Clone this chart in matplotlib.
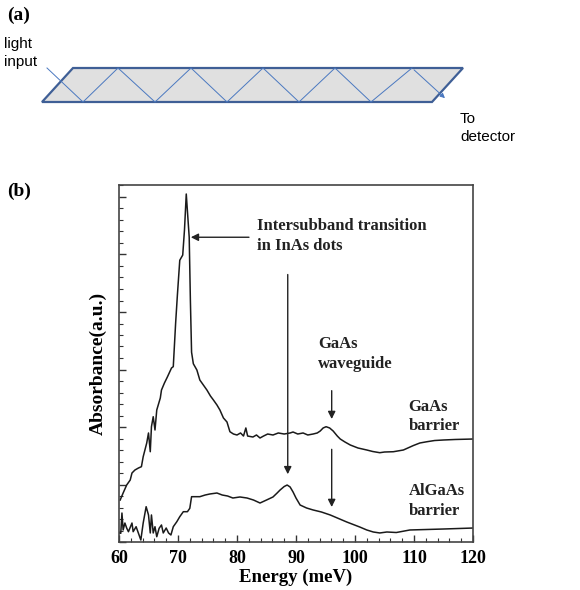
import matplotlib.pyplot as plt
import numpy as np
from matplotlib.patches import Polygon, FancyArrowPatch

# ---- panel (b) data (absorbance in arbitrary units) ----
gaas_energy = [60.2, 60.7, 61.3, 61.9, 62.2, 62.7, 63.3, 63.8, 64.1, 64.7, 65.0, 65.3, 65.5,
               65.8, 66.1, 66.4, 67.0, 67.2, 67.7, 68.2, 68.9, 69.2, 69.6, 69.9, 70.3, 70.8,
               71.1, 71.4, 71.6, 71.9, 72.1, 72.3, 72.6, 73.2, 73.7, 74.3, 74.9, 75.5, 76.0,
               76.6, 77.1, 77.7, 78.3, 78.8, 79.4, 80.0, 80.6, 81.1, 81.5, 81.8, 82.7, 83.3,
               83.9, 84.5, 85.2, 86.1, 87.0, 88.0, 89.0, 89.5, 90.3, 91.2, 92.0, 92.9, 93.6,
               94.1, 94.6, 95.1, 95.7, 96.3, 97.0, 97.5, 98.3, 99.2, 100.5, 102.0, 103.0,
               104.2, 105.0, 106.5, 108.2, 109.9, 111.0, 112.2, 113.5, 115.0, 117.0, 120.0]
gaas_abs = [0.730, 0.852, 0.991, 1.078, 1.200, 1.252, 1.287, 1.310, 1.483, 1.722, 1.896, 1.570,
            2.005, 2.179, 1.948, 2.296, 2.504, 2.643, 2.765, 2.870, 3.026, 3.050, 3.810, 4.300,
            4.900, 4.990, 5.430, 6.052, 5.750, 5.300, 4.200, 3.300, 3.100, 2.991, 2.817, 2.730,
            2.643, 2.539, 2.470, 2.383, 2.296, 2.157, 2.087, 1.918, 1.878, 1.861, 1.896, 1.843,
            1.983, 1.843, 1.826, 1.861, 1.809, 1.843, 1.878, 1.861, 1.896, 1.878, 1.896, 1.913,
            1.878, 1.896, 1.861, 1.878, 1.896, 1.930, 1.983, 2.005, 1.983, 1.930, 1.843, 1.791,
            1.739, 1.687, 1.635, 1.600, 1.574, 1.553, 1.565, 1.570, 1.600, 1.678, 1.722, 1.744,
            1.765, 1.774, 1.783, 1.791]

algaas_energy = [60.1, 60.3, 60.5, 60.7, 61.0, 61.3, 61.6, 62.2, 62.4, 62.9, 63.3, 63.7, 64.1,
                 64.6, 65.0, 65.3, 65.5, 65.8, 66.1, 66.4, 66.8, 67.2, 67.5, 68.0, 68.4, 68.8,
                 69.2, 69.8, 70.3, 70.9, 71.6, 72.0, 72.3, 72.9, 73.7, 74.6, 75.4, 76.6, 77.5,
                 78.4, 79.3, 80.5, 81.7, 82.8, 83.9, 85.0, 86.1, 86.8, 87.3, 88.0, 88.5, 89.0,
                 89.5, 90.0, 90.7, 91.8, 92.9, 94.3, 95.8, 97.2, 98.6, 100.8, 102.0, 103.1,
                 104.2, 105.4, 107.0, 109.3, 112.0, 115.0, 120.0]
algaas_abs = [0.157, 0.151, 0.504, 0.209, 0.330, 0.243, 0.179, 0.330, 0.179, 0.266, 0.151,
              0.035, 0.330, 0.614, 0.470, 0.157, 0.470, 0.157, 0.266, 0.092, 0.238, 0.296,
              0.157, 0.243, 0.157, 0.122, 0.266, 0.353, 0.440, 0.527, 0.527, 0.586, 0.788,
              0.788, 0.788, 0.817, 0.835, 0.852, 0.817, 0.800, 0.765, 0.783, 0.765, 0.730,
              0.678, 0.730, 0.783, 0.852, 0.904, 0.965, 0.991, 0.957, 0.870, 0.765, 0.643,
              0.591, 0.557, 0.522, 0.470, 0.409, 0.348, 0.261, 0.209, 0.174, 0.157, 0.174,
              0.165, 0.209, 0.217, 0.226, 0.243]

x_major = [60, 70, 80, 90, 100, 110, 120]

# ---- panel (a) sketch outline, in figure pixels ----
slab_x = [73, 463, 432, 42]
slab_y = [68, 68, 102, 102]
ray_x = [47, 83, 118, 155, 191, 227, 263, 299, 335, 371, 412, 447]
ray_y = [68, 102, 68, 102, 68, 102, 68, 102, 68, 102, 68, 100]

serif = ['Liberation Serif', 'DejaVu Serif']
sans = ['Liberation Sans', 'DejaVu Sans']

fig = plt.figure(figsize=(5.8, 5.9), dpi=100)

# overlay for panel (a) and panel letters
ov = fig.add_axes([0, 0, 1, 1])
ov.set_xlim(0, 580)
ov.set_ylim(590, 0)
ov.axis('off')
ov.add_patch(Polygon(list(zip(slab_x, slab_y)), closed=True, facecolor='#e0e0e0',
                     edgecolor='#3f5f96', linewidth=1.6, zorder=1))
ov.plot(ray_x[:-1], ray_y[:-1], color='#4a78c0', lw=0.7, zorder=2)
ov.add_patch(FancyArrowPatch((ray_x[-2], ray_y[-2]), (ray_x[-1], ray_y[-1]),
                             arrowstyle='-|>', mutation_scale=7, color='#4a78c0', lw=0.7, zorder=2))
ov.text(7, 15, '(a)', family=serif, fontweight='bold', fontsize=14, va='center', ha='left')
ov.text(7, 191, '(b)', family=serif, fontweight='bold', fontsize=14, va='center', ha='left')
ov.text(4, 53, 'light\ninput', family=sans, fontsize=11, va='center', ha='left', linespacing=1.45)
ov.text(460, 128, 'To\ndetector', family=sans, fontsize=11, va='center', ha='left', linespacing=1.45)

# panel (b)
ax = fig.add_axes([119 / 580, 1 - 542 / 590, 354 / 580, 357 / 590])
ax.plot(gaas_energy, gaas_abs, color='#1a1a1a', lw=1.1)
ax.plot(algaas_energy, algaas_abs, color='#1a1a1a', lw=1.1)
ax.set_xlim(60, 120)
ax.set_ylim(0, 357 / 57.5)
ax.set_xticks(x_major)
ax.set_xticks(np.arange(60, 121, 2), minor=True)
ax.set_yticks(np.arange(0, 7, 1))
ax.set_yticks(np.arange(0, 6.3, 0.2), minor=True)
ax.tick_params(which='both', direction='in', top=False, right=False, color='#333333')
ax.tick_params(which='major', length=5, width=1)
ax.tick_params(which='minor', length=3, width=0.8)
ax.tick_params(axis='x', pad=6)
ax.set_yticklabels([])
ax.set_xticklabels([str(v) for v in x_major], family=serif, fontweight='bold', fontsize=13)
for s in ax.spines.values():
    s.set_color('#444444')
    s.set_linewidth(1.2)
ax.set_xlabel('Energy (meV)', family=serif, fontweight='bold', fontsize=13.5, labelpad=1)
ax.set_ylabel('Absorbance(a.u.)', family=serif, fontweight='bold', fontsize=14)
ax.yaxis.set_label_coords(-0.035, 0.5)

txt = dict(family=serif, fontweight='bold', fontsize=12, ha='left', va='center',
           linespacing=1.3, color='#222222')
ax.text(83.4, 5.32, 'Intersubband transition\nin InAs dots', **txt)
ax.text(93.7, 3.27, 'GaAs\nwaveguide', **txt)
ax.text(109.1, 2.18, 'GaAs\nbarrier', **txt)
ax.text(109.1, 0.71, 'AlGaAs\nbarrier', **txt)

arr = dict(arrowstyle='-|>', color='#222222', lw=1.0, mutation_scale=11)
ax.annotate('', xy=(71.7, 5.30), xytext=(82.5, 5.30), arrowprops=arr)
ax.annotate('', xy=(88.6, 1.13), xytext=(88.6, 4.70), arrowprops=arr)
ax.annotate('', xy=(96.05, 2.09), xytext=(96.05, 2.68), arrowprops=arr)
ax.annotate('', xy=(96.05, 0.56), xytext=(96.05, 1.66), arrowprops=arr)

fig.savefig('out.png', dpi=100)
